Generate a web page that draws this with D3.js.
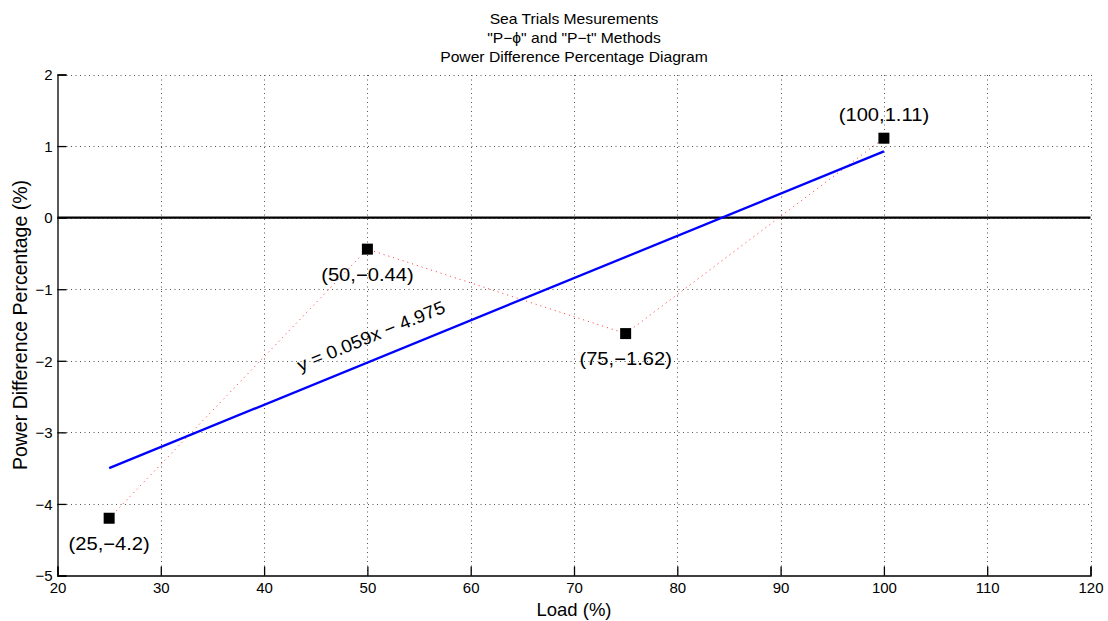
<!DOCTYPE html>
<html>
<head>
<meta charset="utf-8">
<script src="https://cdn.jsdelivr.net/npm/d3@7"></script>
<style>
  body { margin: 0; background: #fff; }
  svg { display: block; font-family: "Liberation Sans", Arial, Helvetica, sans-serif; }
</style>
</head>
<body>
<svg id="chart" width="1108" height="621"></svg>
<script>
// Measured loads and power difference percentages
const loads = [25, 50, 75, 100];
const powerDiff = [-4.2, -0.44, -1.62, 1.11];
const pointLabels = ["(25,\u22124.2)", "(50,\u22120.44)", "(75,\u22121.62)", "(100,1.11)"];
// Linear fit y = slope * x + intercept
const fitSlope = 0.059;
const fitIntercept = -4.975;
const fitRange = [25, 100];
const fitLabel = "y = 0.059x \u2212 4.975";
// Axis ticks
const xTicks = [20, 30, 40, 50, 60, 70, 80, 90, 100, 110, 120];
const yTicks = [-5, -4, -3, -2, -1, 0, 1, 2];
const titleLines = ["Sea Trials Mesurements", "\"P\u2212\u03d5\" and \"P\u2212t\" Methods", "Power Difference Percentage Diagram"];

const svg = d3.select("#chart");
const margin = { left: 57.5, right: 1090.5, top: 74.5, bottom: 575.5 };

const x = d3.scaleLinear().domain([20, 120]).range([margin.left, margin.right]);
const y = d3.scaleLinear().domain([-5, 2]).range([margin.bottom, margin.top]);

// Dotted grid
const grid = svg.append("g").attr("stroke", "#555").attr("stroke-width", 1).attr("stroke-dasharray", "1,3.5");
grid.selectAll("line.vx").data(xTicks.slice(1)).join("line")
  .attr("x1", d => Math.round(x(d)) + 0.5).attr("x2", d => Math.round(x(d)) + 0.5)
  .attr("y1", margin.bottom).attr("y2", margin.top);
grid.selectAll("line.hy").data(yTicks.slice(1)).join("line")
  .attr("y1", d => Math.round(y(d)) + 0.5).attr("y2", d => Math.round(y(d)) + 0.5)
  .attr("x1", margin.left).attr("x2", margin.right);

// Axes with inward ticks
const minusFmt = d => d < 0 ? "\u2212" + Math.abs(d) : String(d);
const xAxis = d3.axisBottom(x).tickValues(xTicks).tickSize(-9).tickFormat(d3.format("d"));
const yAxis = d3.axisLeft(y).tickValues(yTicks).tickSize(-9).tickFormat(minusFmt);

const gx = svg.append("g").attr("transform", `translate(0,${margin.bottom})`).call(xAxis);
const gy = svg.append("g").attr("transform", `translate(${margin.left},0)`).call(yAxis);
[gx, gy].forEach(g => {
  g.select(".domain").attr("stroke", "#000").attr("stroke-width", 1.3);
  g.selectAll(".tick line").attr("stroke", "#000").attr("stroke-width", 1.3);
  g.selectAll(".tick text").attr("fill", "#000").attr("font-size", 15).attr("font-family", "Liberation Sans, Arial, sans-serif");
});
gx.selectAll(".tick text").attr("y", 17.5).attr("dy", 0);
gy.selectAll(".tick text").attr("x", -5).attr("dy", "0.35em");

// Zero reference line
svg.append("line")
  .attr("x1", margin.left).attr("x2", margin.right)
  .attr("y1", y(0)).attr("y2", y(0))
  .attr("stroke", "#000").attr("stroke-width", 2.4);

// Red dotted line through measurements
const pts = loads.map((l, i) => [l, powerDiff[i]]);
svg.append("path")
  .datum(pts)
  .attr("fill", "none")
  .attr("stroke", "#ff3030")
  .attr("stroke-width", 1)
  .attr("stroke-dasharray", "1,4")
  .attr("d", d3.line().x(d => x(d[0])).y(d => y(d[1])));

// Blue regression line
svg.append("line")
  .attr("x1", x(fitRange[0])).attr("y1", y(fitSlope * fitRange[0] + fitIntercept))
  .attr("x2", x(fitRange[1])).attr("y2", y(fitSlope * fitRange[1] + fitIntercept))
  .attr("stroke", "#0000ff").attr("stroke-width", 2.3);

// Square markers
svg.selectAll("rect.mk").data(pts).join("rect")
  .attr("x", d => x(d[0]) - 5.5).attr("y", d => y(d[1]) - 5.5)
  .attr("width", 11).attr("height", 11).attr("fill", "#000");

// Point labels (baseline offsets from each marker)
const labelDy = [32, 32, 31, -17];
svg.selectAll("text.pl").data(pts).join("text")
  .attr("transform", (d, i) => `translate(${x(d[0])},${y(d[1]) + labelDy[i]}) scale(1.12,1)`)
  .attr("text-anchor", "middle")
  .attr("font-size", 18)
  .attr("fill", "#000")
  .text((d, i) => pointLabels[i]);

// Equation label aligned with fit line
const angle = Math.atan2(y(fitSlope * 100 + fitIntercept) - y(fitSlope * 25 + fitIntercept), x(100) - x(25)) * 180 / Math.PI;
const eqX = 51.2;
const eqY = fitSlope * eqX + fitIntercept;
svg.append("text")
  .attr("transform", `translate(${x(eqX)},${y(eqY)}) rotate(${angle}) translate(0,-17) scale(1.06,1)`)
  .attr("text-anchor", "middle")
  .attr("font-size", 18)
  .attr("fill", "#000")
  .text(fitLabel);

// Title
svg.append("g").selectAll("text").data(titleLines).join("text")
  .attr("transform", (d, i) => `translate(${(margin.left + margin.right) / 2},${24 + i * 19}) scale(1.08,1)`)
  .attr("text-anchor", "middle")
  .attr("font-size", 14.5)
  .attr("fill", "#000")
  .text(d => d);

// Axis titles
svg.append("text")
  .attr("x", (margin.left + margin.right) / 2).attr("y", 616)
  .attr("text-anchor", "middle").attr("font-size", 18.5).attr("fill", "#000")
  .text("Load (%)");
svg.append("text")
  .attr("transform", `translate(27,${(margin.top + margin.bottom) / 2}) rotate(-90)`)
  .attr("text-anchor", "middle").attr("font-size", 19.5).attr("fill", "#000")
  .text("Power Difference Percentage (%)");
</script>
</body>
</html>
